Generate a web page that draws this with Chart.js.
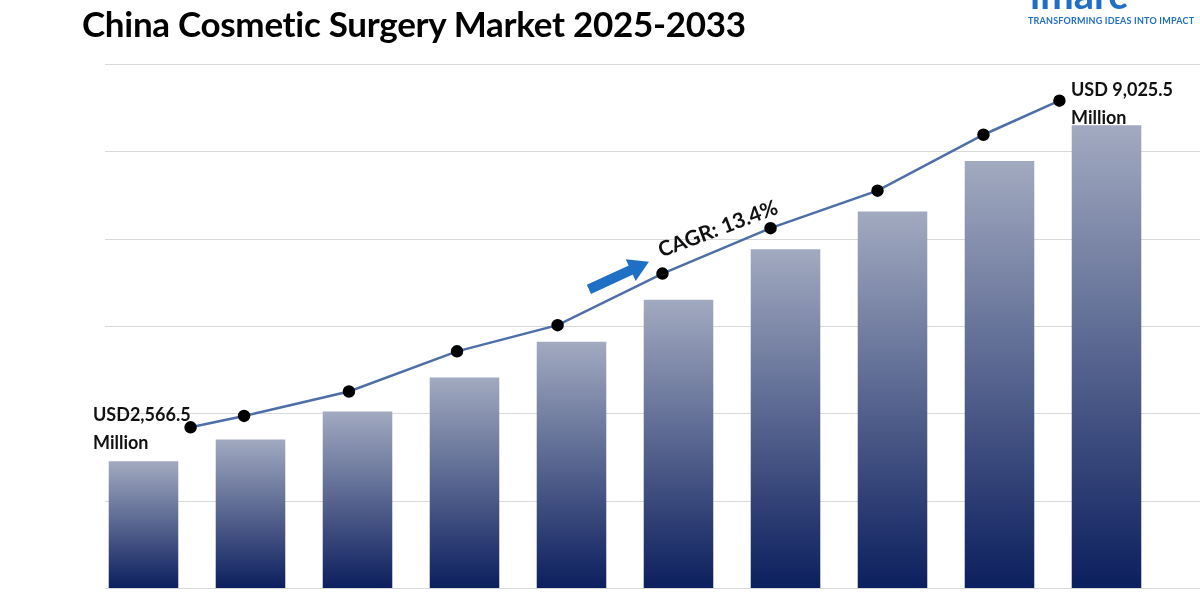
<!DOCTYPE html>
<html><head><meta charset="utf-8">
<script src="https://cdn.jsdelivr.net/npm/chart.js@4"></script>
<style>
body{margin:0;background:#fff;width:1200px;height:600px;overflow:hidden;position:relative;font-family:Lato,"Open Sans",sans-serif}
#t{position:absolute;left:82px;top:2px;font-size:35px;font-weight:bold;color:#000;letter-spacing:-0.3px}
#logo{position:absolute;left:1030px;top:-30px;color:#1f6fc5;font-size:40px;font-weight:bold}
#tag{position:absolute;left:1028px;top:15px;color:#1f6fc5;font-size:9px;font-weight:bold;letter-spacing:0.2px;background:#fff}
canvas{position:absolute;left:0;top:0}
</style></head><body>
<canvas id="c" width="1200" height="600"></canvas>
<div id="t">China Cosmetic Surgery Market 2025-2033</div>
<div id="logo">imarc</div>
<div id="tag">TRANSFORMING IDEAS INTO IMPACT</div>
<script>
const categories=['2024','2025','2026','2027','2028','2029','2030','2031','2032','2033'];
const barValues=[1.45,1.70,2.02,2.41,2.82,3.30,3.88,4.31,4.89,5.30];
const linePosX=[0.44,0.94,1.92,2.93,3.87,4.85,5.86,6.86,7.85,8.56];
const lineValues=[1.84,1.97,2.25,2.71,3.01,3.60,4.12,4.55,5.19,5.58];
const gridTicks=[0,1,2,3,4,5,6];

const extras={id:'extras',
beforeDatasetsDraw(ch){const c=ch.ctx,y=ch.scales.y;c.save();c.strokeStyle='#d9d9d9';c.lineWidth=1;
gridTicks.forEach(v=>{const p=Math.round(y.getPixelForValue(v))+0.5;c.beginPath();c.moveTo(105,p);c.lineTo(1200,p);c.stroke();});c.restore();},
afterDatasetsDraw(ch){const c=ch.ctx,m=ch.getDatasetMeta(1).data;c.save();
c.font='bold 18px Lato, sans-serif';c.fillStyle='#111';c.textBaseline='middle';
c.fillText('USD2,566.5',93,m[0].y-12);c.fillText('Million',93,m[0].y+16);
c.fillText('USD 9,025.5',1071,m[9].y-10);c.fillText('Million',1071,m[9].y+18);
c.translate(618,276);c.rotate(-0.43);c.fillStyle='#1f6fc5';
c.fillRect(-32,-5,48,10);c.beginPath();c.moveTo(14,-12);c.lineTo(34,0);c.lineTo(14,12);c.closePath();c.fill();
c.setTransform(1,0,0,1,0,0);
c.translate(718,229);c.rotate(-0.36);c.font='bold 21px Lato, sans-serif';c.fillStyle='#111';c.textAlign='center';
c.fillText('CAGR: 13.4%',0,0);c.restore();}};

new Chart(document.getElementById('c'),{
data:{labels:categories,datasets:[
{type:'bar',data:barValues,xAxisID:'x',grouped:false,barPercentage:0.65,categoryPercentage:1,
backgroundColor:(ctx)=>{const ch=ctx.chart,a=ch.chartArea;if(!a||ctx.raw==null)return'#334';
const top=ch.scales.y.getPixelForValue(ctx.raw);const g=ch.ctx.createLinearGradient(0,top,0,a.bottom);g.addColorStop(0,'#a2aac0');g.addColorStop(1,'#0c1f5e');return g;},order:2},
{type:'line',data:linePosX.map((x,i)=>({x,y:lineValues[i]})),xAxisID:'x2',borderColor:'#4d6fa8',borderWidth:2.5,
pointBackgroundColor:'#000',pointBorderColor:'#000',pointRadius:5,tension:0,order:1}
]},
options:{responsive:false,animation:false,layout:{padding:{left:90,right:40,top:64,bottom:12}},
plugins:{legend:{display:false},tooltip:{enabled:false}},
scales:{x:{display:false,offset:true},x2:{type:'linear',display:false,min:-0.5,max:9.5},
y:{display:false,min:0,max:6}}},
plugins:[extras]});
</script></body></html>
